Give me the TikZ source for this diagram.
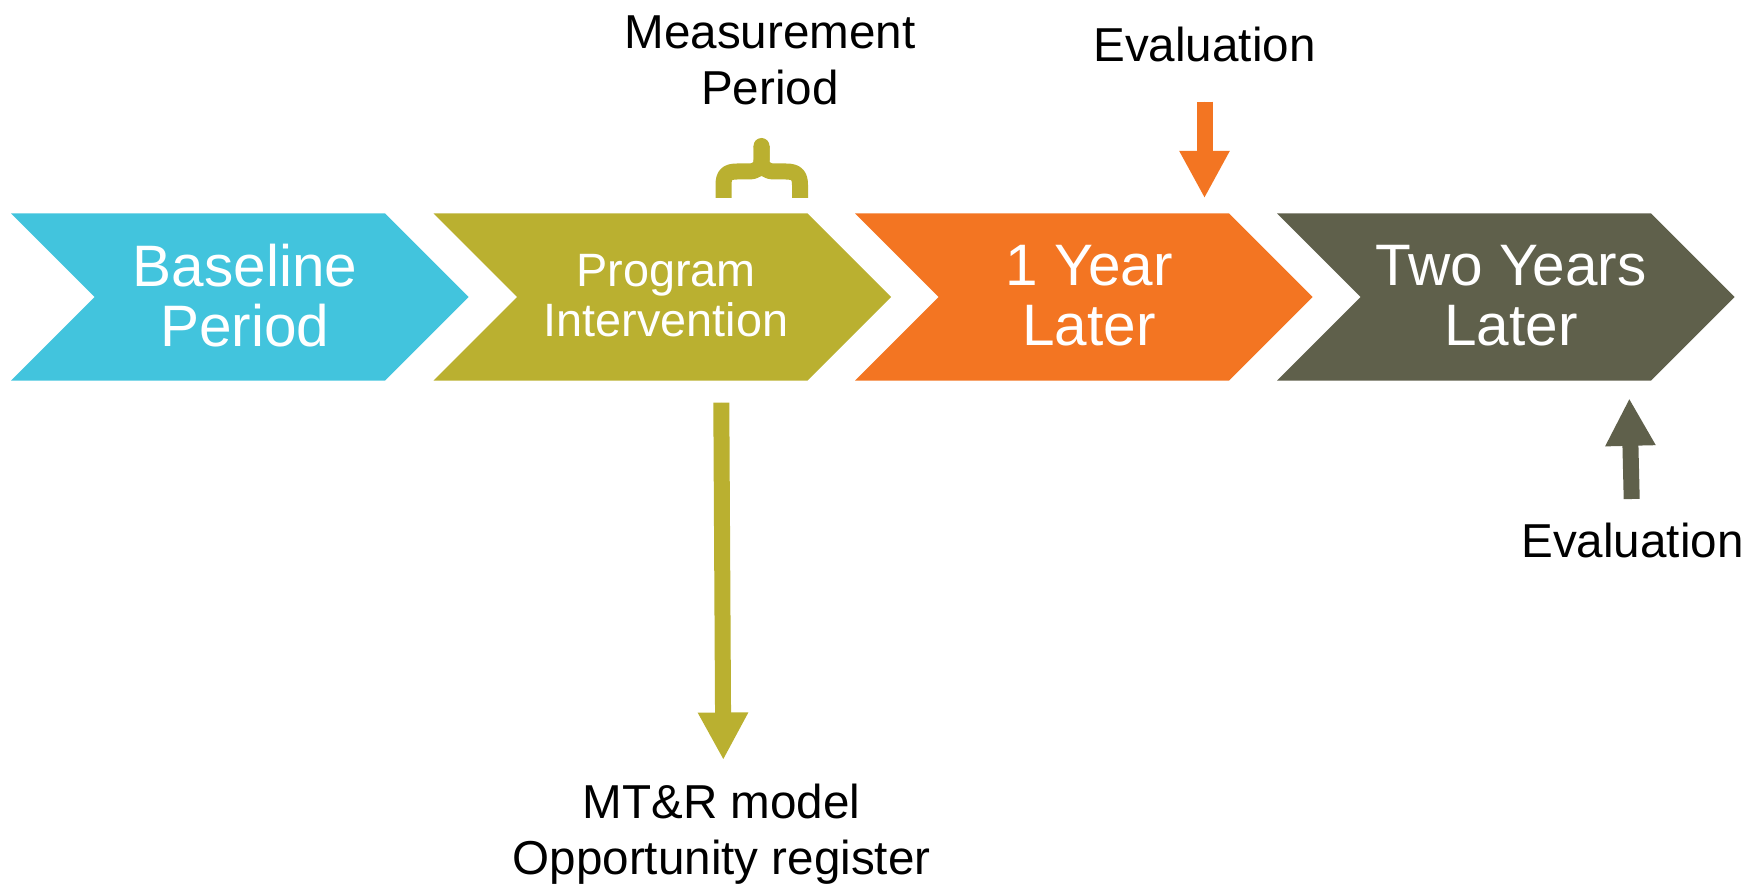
\documentclass[tikz,border=0pt]{standalone}
\usepackage{fontspec}
\setmainfont{Liberation Sans}
\usetikzlibrary{arrows.meta}
\definecolor{cblue}{RGB}{66,196,221}
\definecolor{colive}{RGB}{186,176,48}
\definecolor{corange}{RGB}{243,117,34}
\definecolor{cdark}{RGB}{95,96,75}
\tikzset{
  chevtext/.style={text=white, align=center, inner sep=0pt, anchor=center},
  bigfont/.style={font=\fontsize{58.5}{59.5}\selectfont},
  midfont/.style={font=\fontsize{46.8}{49.4}\selectfont},
  lbl/.style={text=black, align=center, inner sep=0pt, font=\fontsize{47.6}{55.5}\selectfont},
  blockarrow/.style={line width=16pt, line cap=butt, -{Triangle[length=47.5pt,width=47pt]}},
  bracestroke/.style={line width=16pt, line cap=butt, line join=round, draw=colive}
}
\begin{document}
\begin{tikzpicture}[x=1pt,y=-1pt]
\useasboundingbox (0,0) rectangle (1761,885);
% chevrons
\foreach \L/\c in {11/cblue, 433.5/colive, 855/corange, 1277/cdark}
  \fill[\c] (\L,213.4) -- (\L+374,213.4) -- (\L+457.5,297) -- (\L+374,380.7)
            -- (\L,380.7) -- (\L+83.6,297) -- cycle;
% chevron texts
\node[chevtext, bigfont] (baseline) at (245,295.5) {Baseline\\Period};
\node[chevtext, midfont] (program) at (666,295.7) {Program\\Intervention};
\node[chevtext, bigfont] (oneyear) at (1089,295.5) {1 Year\\Later};
\node[chevtext, bigfont] (twoyears) at (1511,295.5) {Two Years\\Later};
% labels
\node[lbl, anchor=center] (meas) at (770,60.6) {Measurement\\Period};
\node[lbl, anchor=base] (evalA) at (1204.5,61.8) {Evaluation};
\node[lbl, anchor=base] (evalB) at (1632.4,557) {Evaluation};
\node[lbl, anchor=center] (mtr) at (721.6,834.3) {MT\&R model\\Opportunity register};
% brace
\draw[bracestroke] (723.5,198) -- (723.5,185) .. controls (723.5,175) and (727,171.5) .. (737,171.5)
  -- (748,171.5) .. controls (757,171.5) and (761.5,168) .. (761.5,160) -- (761.5,146);
\draw[bracestroke] (800,198) -- (800,185) .. controls (800,175) and (796,171.5) .. (786,171.5)
  -- (775,171.5) .. controls (766,171.5) and (761.5,168) .. (761.5,160) -- (761.5,146);
\fill[colive] (761.5,146) circle[radius=8pt];
% arrows
\coordinate (aOs) at (721.3,402.7);
\coordinate (aOt) at (723.3,760);
\coordinate (aRs) at (1204.5,101.7);
\coordinate (aRt) at (1204.5,198.3);
\coordinate (aDs) at (1631.7,499);
\coordinate (aDt) at (1629.3,398.3);
\draw[blockarrow, draw=colive, fill=colive] (aOs) -- (aOt);
\draw[blockarrow, draw=corange, fill=corange] (aRs) -- (aRt);
\draw[blockarrow, draw=cdark, fill=cdark] (aDs) -- (aDt);
\end{tikzpicture}
\end{document}
